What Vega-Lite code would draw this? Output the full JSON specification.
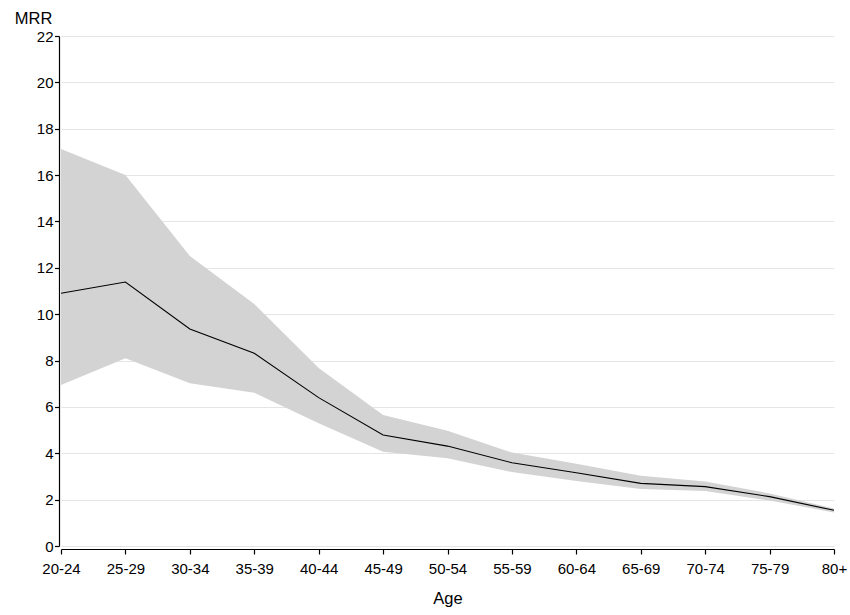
{
  "$schema": "https://vega.github.io/schema/vega-lite/v6.json",
  "autosize": {"type": "none"},
  "padding": {"left": 61, "top": 36, "right": 16, "bottom": 69},
  "width": 773,
  "height": 510,
  "background": "white",
  "config": {
    "font": "Liberation Sans",
    "view": {"stroke": null},
    "axis": {
      "labelFont": "Liberation Sans",
      "titleFont": "Liberation Sans",
      "labelColor": "black",
      "titleColor": "black",
      "labelFontSize": 15,
      "titleFontSize": 16.5,
      "titleFontWeight": "normal",
      "domainColor": "black",
      "tickColor": "black",
      "domainWidth": 1.2,
      "tickWidth": 1.2
    }
  },
  "data": {
    "values": [
      {"age": "20-24", "mrr": 10.90, "lo": 6.95, "hi": 17.13},
      {"age": "25-29", "mrr": 11.39, "lo": 8.10, "hi": 16.00},
      {"age": "30-34", "mrr": 9.36, "lo": 7.02, "hi": 12.51},
      {"age": "35-39", "mrr": 8.31, "lo": 6.61, "hi": 10.44},
      {"age": "40-44", "mrr": 6.40, "lo": 5.30, "hi": 7.68},
      {"age": "45-49", "mrr": 4.79, "lo": 4.07, "hi": 5.65},
      {"age": "50-54", "mrr": 4.31, "lo": 3.78, "hi": 4.97},
      {"age": "55-59", "mrr": 3.59, "lo": 3.19, "hi": 4.03},
      {"age": "60-64", "mrr": 3.16, "lo": 2.80, "hi": 3.55},
      {"age": "65-69", "mrr": 2.70, "lo": 2.46, "hi": 3.03},
      {"age": "70-74", "mrr": 2.56, "lo": 2.37, "hi": 2.78},
      {"age": "75-79", "mrr": 2.13, "lo": 1.96, "hi": 2.27},
      {"age": "80+", "mrr": 1.54, "lo": 1.45, "hi": 1.62}
    ]
  },
  "encoding": {
    "x": {
      "field": "age",
      "type": "ordinal",
      "sort": null,
      "scale": {"type": "point", "padding": 0},
      "axis": {
        "title": "Age",
        "labelAngle": 0,
        "offset": 3,
        "tickSize": 5,
        "labelPadding": 7,
        "titlePadding": 14,
        "grid": false
      }
    }
  },
  "layer": [
    {
      "mark": {"type": "area", "color": "#d3d3d3", "opacity": 1},
      "encoding": {
        "y": {
          "field": "lo",
          "type": "quantitative",
          "scale": {"domain": [0, 22], "nice": false},
          "axis": {
            "title": "MRR",
            "titleAngle": 0,
            "titleAlign": "center",
            "titleBaseline": "alphabetic",
            "titleX": -26,
            "titleY": -13,
            "values": [0, 1, 2, 3, 4, 5, 6, 7, 8, 9, 10, 11, 12, 13, 14, 15, 16, 17, 18, 19, 20, 21, 22],
            "labelExpr": "datum.value % 2 === 0 ? datum.label : ''",
            "tickSize": {"condition": {"test": "datum.value % 2 === 1", "value": 2.5}, "value": 4.5},
            "gridOpacity": {"condition": {"test": "datum.value % 2 === 1", "value": 0}, "value": 1},
            "grid": true,
            "gridColor": "#e5e5e5",
            "gridWidth": 1.2,
            "offset": 2,
            "labelPadding": 1.5
          }
        },
        "y2": {"field": "hi"}
      }
    },
    {
      "mark": {"type": "line", "color": "black", "strokeWidth": 1.1},
      "encoding": {
        "y": {"field": "mrr", "type": "quantitative"}
      }
    }
  ]
}
